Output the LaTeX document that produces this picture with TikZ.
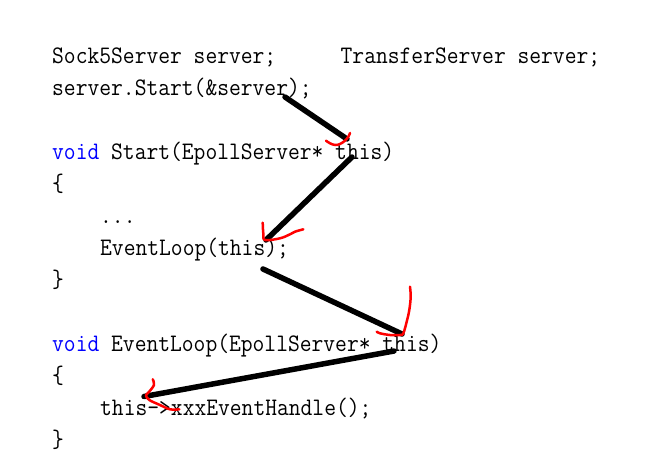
\documentclass[tikz,border=0pt]{standalone}
\usepackage{fontspec}
\usepackage{graphicx}
\definecolor{kw}{RGB}{0,0,255}
\newcommand{\codetext}[1]{\scalebox{1}[1.1]{#1}}
\tikzset{
  code/.style={anchor=base west, inner sep=0pt, font=\fontsize{22.9pt}{32pt}\selectfont\ttfamily, text=black},
  stroke/.style={line width=5.5pt, line cap=round, black},
  hook/.style={red, line width=2.5pt, line cap=round, line join=round}
}
\begin{document}
\begin{tikzpicture}[x=1pt,y=-1pt]
\useasboundingbox (0,0) rectangle (663,466);
\fill[white] (0,0) rectangle (663,466);
% code lines
\node[code] (l1a) at (52,63.5) {\codetext{Sock5Server server;}};
\node[code] (l1b) at (340.5,63.5) {\codetext{TransferServer server;}};
\node[code] (l2) at (52,95.5) {\codetext{server.Start(\&server);}};
\node[code] (l4) at (52,159.5) {\codetext{\textcolor{kw}{void} Start(EpollServer* this)}};
\node[code] (l5) at (52,191.5) {\codetext{\{}};
\node[code] (l6) at (100,223.5) {\codetext{...}};
\node[code] (l7) at (100,255.5) {\codetext{EventLoop(this);}};
\node[code] (l8) at (52,287.5) {\codetext{\}}};
\node[code] (l10) at (52,351.5) {\codetext{\textcolor{kw}{void} EventLoop(EpollServer* this)}};
\node[code] (l11) at (52,383.5) {\codetext{\{}};
\node[code] (l12) at (100,415.5) {\codetext{this->xxxEventHandle();}};
\node[code] (l13) at (52,447.5) {\codetext{\}}};
% stroke end points
\coordinate (s1a) at (285,97);
\coordinate (s1b) at (347,139);
\coordinate (s2a) at (352,157);
\coordinate (s2b) at (266,240);
\coordinate (s3a) at (263,269);
\coordinate (s3b) at (402,334);
\coordinate (s4a) at (394,351);
\coordinate (s4b) at (144,396.5);
\draw[stroke] (s1a) -- (s1b);
\draw[stroke] (s2a) -- (s2b);
\draw[stroke] (s3a) -- (s3b);
\draw[stroke] (s4a) -- (s4b);
% red hand-drawn arrowheads
\draw[hook] plot[smooth, tension=0.6] coordinates {(326,140.7) (330,143.3) (335,145) (340,144) (345,140.7) (348.3,136.7) (350,133)};
\draw[hook] plot[smooth, tension=0.6] coordinates {(262.7,222.7) (263.3,233.3) (265,240) (280,238.3) (290,234.3) (295,231.7) (303.3,229.3)};
\draw[hook] plot[smooth, tension=0.6] coordinates {(410,286.7) (410.7,296.7) (409.3,310) (406.7,321.7) (403.3,333.3) (400,335) (390,335) (380,333.3) (376.7,331.7)};
\draw[hook] plot[smooth, tension=0.6] coordinates {(152.7,379.3) (154,385) (148.3,392.7) (146,395.5) (149.3,400) (160,405) (170,409.3) (179.3,409.3)};
\end{tikzpicture}
\end{document}
